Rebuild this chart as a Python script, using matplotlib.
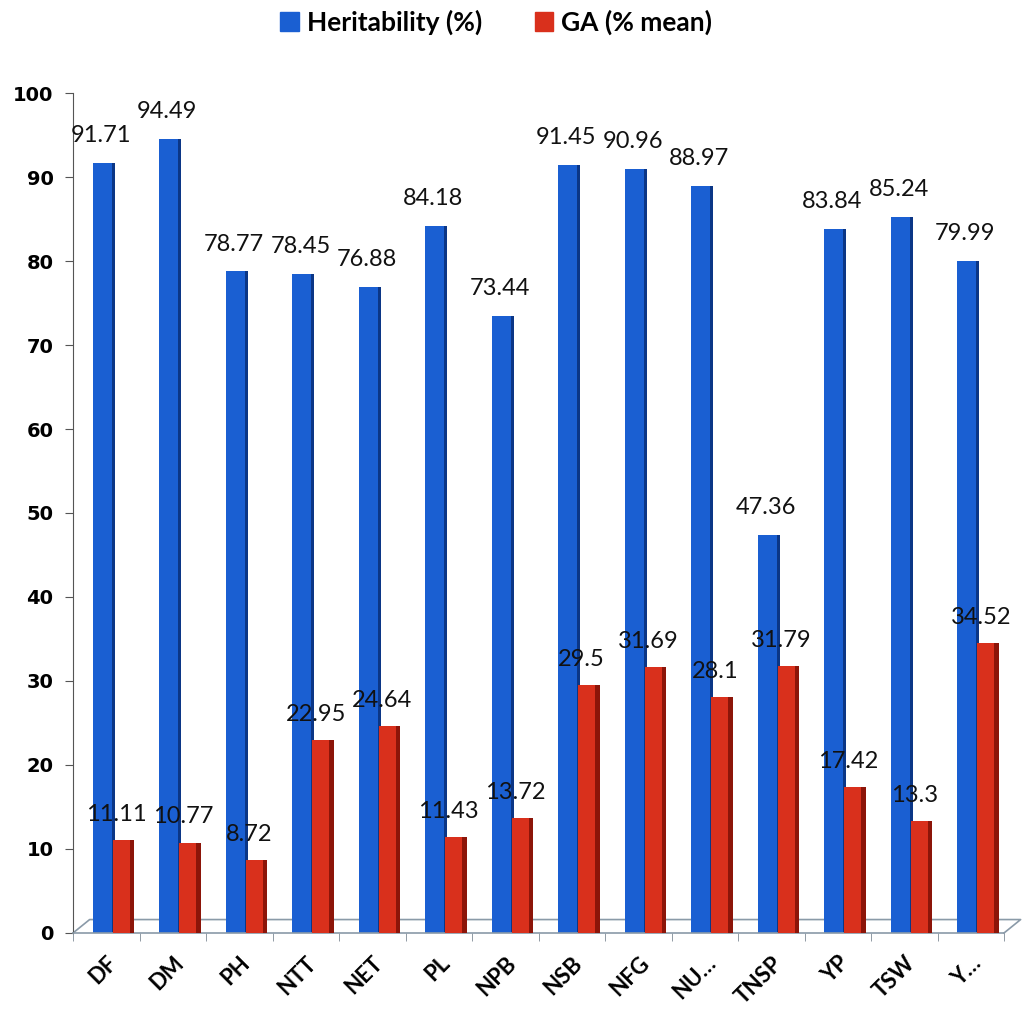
import matplotlib.pyplot as plt
import numpy as np

traits = ["DF", "DM", "PH", "NTT", "NET", "PL", "NPB", "NSB", "NFG", "NU\u2026",
          "TNSP", "YP", "TSW", "Y\u2026"]
heritability = [91.71, 94.49, 78.77, 78.45, 76.88, 84.18, 73.44, 91.45, 90.96,
                88.97, 47.36, 83.84, 85.24, 79.99]
ga_mean = [11.11, 10.77, 8.72, 22.95, 24.64, 11.43, 13.72, 29.5, 31.69, 28.1,
           31.79, 17.42, 13.3, 34.52]
yticks = list(range(0, 101, 10))

blue = "#1a5fd2"
blue_dark = "#0b3686"
red = "#d9301c"
red_dark = "#8c1509"

plt.rcParams['font.family'] = ['Lato', 'DejaVu Sans']

fig = plt.figure(figsize=(10.23, 10.10), dpi=100)
ax = fig.add_axes([73/1023, 77/1010, (1004-73)/1023, (933-93)/1010])

x = np.arange(len(traits))

# blue bars (front face + dark side)
ax.bar(x - 0.2, heritability, width=0.28, align='edge', color=blue, zorder=2)
ax.bar(x + 0.08, heritability, width=0.05, align='edge', color=blue_dark, zorder=2)
# red bars (front face + dark side)
ax.bar(x + 0.1, ga_mean, width=0.25, align='edge', color=red, zorder=3)
ax.bar(x + 0.35, ga_mean, width=0.07, align='edge', color=red_dark, zorder=3)

for i, v in enumerate(heritability):
    ax.text(i - 0.08, v + 2.0, f"{v:g}", ha='center', va='bottom',
            fontsize=17, color='#111111', zorder=5)
for i, v in enumerate(ga_mean):
    ax.text(i + 0.15, v + 1.8, f"{v:g}", ha='center', va='bottom',
            fontsize=17, color='#111111', zorder=5)

# floor of the 3D chart
ax.plot([-0.5, -0.25, 13.75, 13.5], [0, 1.6, 1.6, 0], color='#8a9aa8',
        lw=1.2, clip_on=False, zorder=1)

ax.set_xlim(-0.5, 13.5)
ax.set_ylim(0, 100)
ax.set_yticks(yticks)
ax.set_yticklabels([str(t) for t in yticks], fontsize=14, fontweight='bold',
                   family=['DejaVu Sans'])
ax.set_xticks(x)
ax.set_xticklabels(traits, rotation=45, ha='right', rotation_mode='anchor',
                   fontsize=16, fontweight='bold')
ax.tick_params(axis='x', length=0, pad=14)
ax.set_xticks(np.arange(-0.5, 14, 1), minor=True)
ax.tick_params(axis='x', which='minor', length=6, direction='out', color='#7f8a95')
ax.tick_params(axis='y', length=6, direction='out', color='#555555', pad=8)

for s in ['top', 'right']:
    ax.spines[s].set_visible(False)
ax.spines['left'].set_color('#555555')
ax.spines['bottom'].set_color('#8a9aa8')
ax.spines['bottom'].set_linewidth(1.2)

handles = [plt.Rectangle((0, 0), 1, 1, color=blue), plt.Rectangle((0, 0), 1, 1, color=red)]
fig.legend(handles, ["Heritability (%)", "GA (% mean)"], loc='center',
           bbox_to_anchor=(0.485, 0.978), ncol=2, frameon=False,
           prop={'size': 19, 'weight': 'bold'}, handlelength=0.7, handleheight=0.7,
           handletextpad=0.3, columnspacing=2.0)

fig.savefig("out.png", dpi=100)
